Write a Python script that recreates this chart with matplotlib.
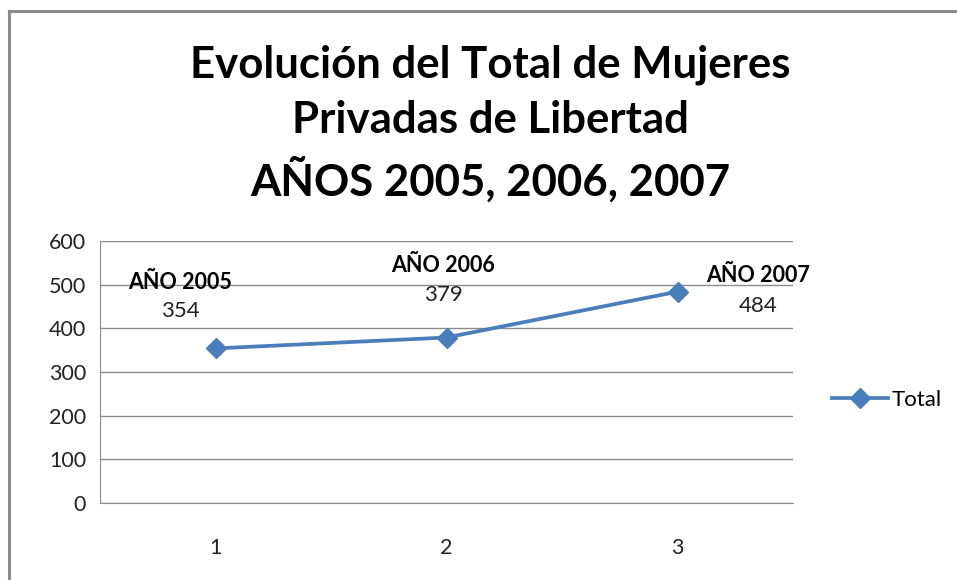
import matplotlib
matplotlib.use("Agg")
import matplotlib.pyplot as plt
from matplotlib.lines import Line2D

# Data
categories = [1, 2, 3]
totals = [354, 379, 484]
year_labels = ["AÑO 2005", "AÑO 2006", "AÑO 2007"]
title_lines = ["Evolución del Total de Mujeres",
               "Privadas de Libertad",
               "AÑOS 2005, 2006, 2007"]
y_ticks = [0, 100, 200, 300, 400, 500, 600]

plt.rcParams["font.family"] = ["Lato", "DejaVu Sans"]

W, H = 957, 580
fig = plt.figure(figsize=(W / 100, H / 100), dpi=100)
ax = fig.add_axes([100 / W, 1 - 503 / H, 693 / W, 262 / H])

line_color = "#4A7EBB"
ax.plot(categories, totals, color=line_color, lw=2.7, marker="D",
        markersize=10, label="Total")

ax.set_xlim(0.5, 3.5)
ax.set_ylim(0, 600)
ax.set_yticks(y_ticks)
ax.set_xticks(categories)
ax.tick_params(axis="both", length=0, labelsize=15.5, colors="#222222")
ax.tick_params(axis="x", pad=25)
ax.tick_params(axis="y", pad=10)
ax.yaxis.grid(True, color="#8c8c8c", lw=1)
ax.set_axisbelow(True)
for side in ["top", "right"]:
    ax.spines[side].set_visible(False)
for side in ["left", "bottom"]:
    ax.spines[side].set_color("#8c8c8c")

# Data labels (offsets in pixels)
offsets = [(-35, 66, 37), (-3, 72, 43), (81, 16, -14)]
for x, y, name, (dx, dy1, dy2) in zip(categories, totals, year_labels, offsets):
    ax.annotate(name, (x, y), xytext=(dx, dy1), textcoords="offset pixels",
                ha="center", va="center", fontsize=15.5, fontweight="bold")
    ax.annotate(str(y), (x, y), xytext=(dx, dy2), textcoords="offset pixels",
                ha="center", va="center", fontsize=16, color="#222222")

ax.legend(loc="center left", bbox_to_anchor=(812 / W, 1 - 400 / H),
          bbox_transform=fig.transFigure, frameon=False, fontsize=16,
          handlelength=2.5, handletextpad=0.2)

# Title
for ty, text in zip([65, 120, 180], title_lines):
    fig.text(490 / W, 1 - ty / H, text, ha="center", va="center",
             fontsize=31.5, fontweight="bold")

# Chart border (left and top visible)
fig.add_artist(Line2D([9 / W, 9 / W], [0, 1 - 11 / H], color="#8a8a8a", lw=2.2,
                      transform=fig.transFigure))
fig.add_artist(Line2D([9 / W, 1], [1 - 11 / H, 1 - 11 / H], color="#8a8a8a", lw=2.2,
                      transform=fig.transFigure))

fig.savefig("out.png", dpi=100)
